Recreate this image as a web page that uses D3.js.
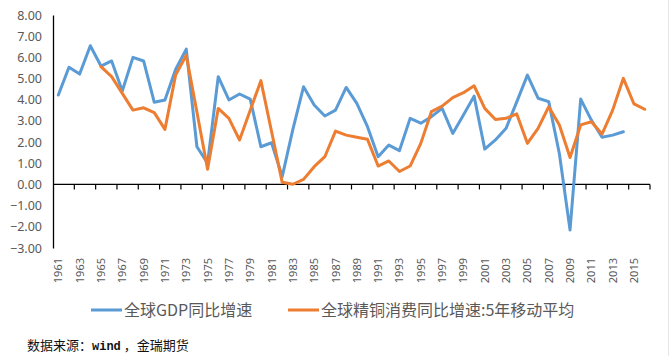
<!DOCTYPE html>
<html><head><meta charset="utf-8">
<script src="https://cdn.jsdelivr.net/npm/d3@7"></script>
<style>
html,body{margin:0;padding:0;background:#fff;}
svg{display:block;}
</style></head>
<body>
<svg id="chart" width="670" height="356"></svg>
<script>
const years = d3.range(1961, 2017);
const gdpGrowth = [4.22,5.53,5.21,6.55,5.59,5.83,4.41,6.00,5.83,3.88,
  3.99,5.43,6.39,1.78,1.00,5.09,3.99,4.27,4.03,1.78,
  1.97,0.37,2.60,4.61,3.75,3.23,3.51,4.58,3.83,2.73,
  1.31,1.86,1.60,3.12,2.89,3.20,3.59,2.41,3.28,4.17,
  1.67,2.10,2.65,3.90,5.16,4.07,3.91,1.45,-2.15,4.03,
  3.04,2.23,2.33,2.49,null,null];
const copperMA5 = [null,null,null,null,5.56,5.09,4.30,3.51,3.62,3.39,
  2.60,5.16,6.10,3.42,0.72,3.59,3.12,2.10,3.50,4.90,
  2.50,0.10,0.01,0.24,0.84,1.31,2.52,2.33,2.23,2.13,
  0.87,1.11,0.61,0.87,1.94,3.44,3.70,4.10,4.33,4.66,
  3.59,3.07,3.12,3.33,1.94,2.65,3.67,2.81,1.27,2.81,
  2.96,2.38,3.51,5.01,3.80,3.55];
const yTicks = d3.range(-3, 9, 1);
const xLabelYears = years.filter((d, i) => i % 2 === 0);
const seriesNames = ["全球GDP同比增速", "全球精铜消费同比增速:5年移动平均"];
const seriesColors = ["#5B9BD5", "#ED7D31"];
const sourceText = ["数据来源：", "wind", " ，", "金瑞期货"];

const svg = d3.select("#chart");
const x = d3.scaleBand().domain(years).range([53, 650]).padding(0);
const y = d3.scaleLinear().domain([-3, 8]).range([248, 15]);
const cx = d => x(d) + x.bandwidth() / 2;

// y axis
const yAxis = svg.append("g").attr("transform", "translate(53,0)")
  .call(d3.axisLeft(y).tickValues(yTicks).tickSize(0).tickPadding(11).tickFormat(d3.format(".2f")));
yAxis.select(".domain").attr("stroke", "#000").attr("stroke-width", 1.3);
yAxis.selectAll("text").attr("font-family", "'Noto Sans', sans-serif").attr("font-size", "12.5px").attr("fill", "#595959");

// x axis at zero
const xAxisG = svg.append("g").attr("transform", `translate(0,${y(0)})`);
xAxisG.append("line").attr("x1", x.range()[0]).attr("x2", x.range()[1]).attr("stroke", "#000").attr("stroke-width", 1.3);
const tickPos = years.filter((d, i) => i % 2 === 0 && i > 0).map(d => x(d)).concat([x.range()[1]]);
xAxisG.selectAll("line.tk").data(tickPos).join("line").attr("class", "tk")
  .attr("x1", d => d).attr("x2", d => d).attr("y1", 0).attr("y2", 5).attr("stroke", "#000").attr("stroke-width", 1.2);

// x labels
svg.append("g").selectAll("text").data(xLabelYears).join("text")
  .attr("transform", d => `translate(${cx(d) + 4},258) rotate(-90)`)
  .attr("text-anchor", "end")
  .attr("font-family", "'Noto Sans', sans-serif").attr("font-size", "11px").attr("fill", "#595959")
  .text(d => d);

// lines
const series = [gdpGrowth, copperMA5];
series.forEach((vals, k) => {
  const line = d3.line().defined(d => d[1] !== null).x(d => cx(d[0])).y(d => y(d[1]));
  svg.append("path").datum(years.map((yr, i) => [yr, vals[i]]))
    .attr("d", line).attr("fill", "none").attr("stroke", seriesColors[k])
    .attr("stroke-width", 3).attr("stroke-linejoin", "round").attr("stroke-linecap", "round");
});

// legend
const legX = [91, 288];
seriesNames.forEach((name, k) => {
  const g = svg.append("g").attr("transform", `translate(${legX[k]},310)`);
  g.append("line").attr("x1", 0).attr("x2", 31).attr("y1", 0).attr("y2", 0)
    .attr("stroke", seriesColors[k]).attr("stroke-width", 3);
  g.append("text").attr("x", 33).attr("y", 6)
    .attr("font-family", "'Noto Sans CJK SC', sans-serif").attr("font-size", "16px").attr("fill", "#595959")
    .text(name);
});

// source
const src = svg.append("text").attr("x", 27).attr("y", 350)
  .attr("font-family", "'Noto Sans CJK SC', sans-serif").attr("font-size", "13px").attr("fill", "#111");
src.append("tspan").text(sourceText[0]);
src.append("tspan").attr("font-family", "'Liberation Mono', monospace").attr("font-size", "12px").attr("font-weight", "bold").text(sourceText[1]);
src.append("tspan").text(sourceText[2]);
src.append("tspan").text(sourceText[3]);

// right border
svg.append("line").attr("x1", 668.5).attr("x2", 668.5).attr("y1", 0).attr("y2", 356).attr("stroke", "#e6e6e6");
</script>
</body></html>
